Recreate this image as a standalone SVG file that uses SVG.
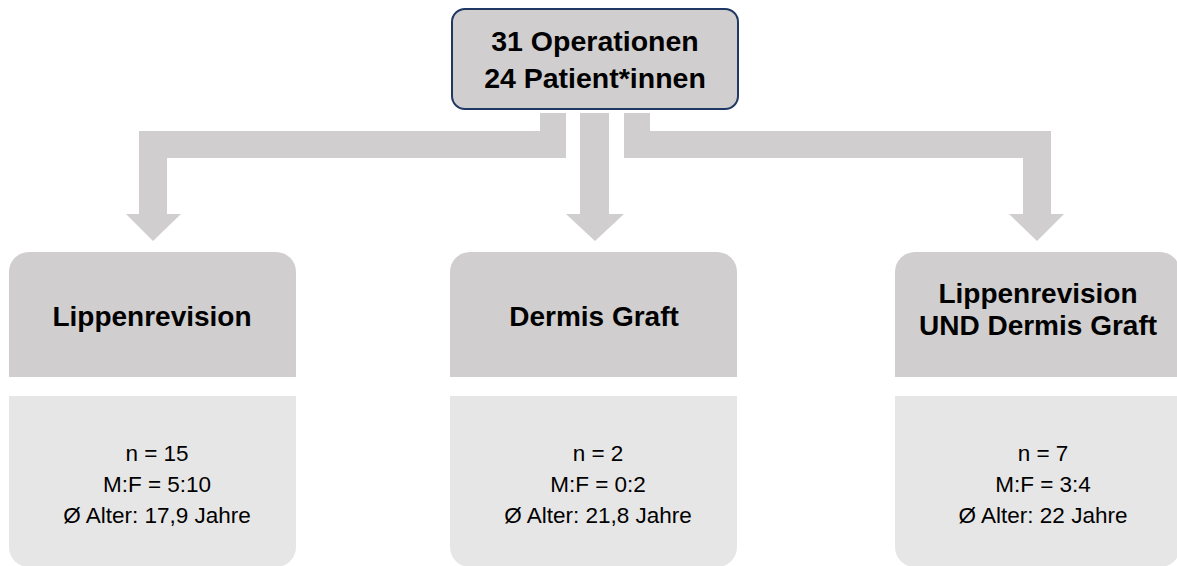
<svg xmlns="http://www.w3.org/2000/svg" width="1177" height="566" viewBox="0 0 1177 566">
<style>
.conn{fill:#d0cece;stroke:none}
.hdr{fill:#d0cece}
.body{fill:#e7e6e6}
.b{font-family:"Liberation Sans",Arial,sans-serif;font-weight:bold;font-size:28px;fill:#000;text-anchor:middle}
.t{font-size:28.5px}
.r{font-family:"Liberation Sans",Arial,sans-serif;font-size:22.5px;fill:#000;text-anchor:middle}
</style>
<rect width="1177" height="566" fill="#fff"/>
<g id="connectors">
<polygon class="conn" points="540,113 566,113 566,158 167,158 167,214 181,214 153,241 126,214 139,214 139,131 540,131"/>
<polygon class="conn" points="580,113 609,113 609,214 624,214 595,241 566,214 580,214"/>
<polygon class="conn" points="624,113 650,113 650,131 1051,131 1051,214 1064,214 1037,241 1009,214 1023,214 1023,158 624,158"/>
</g>
<g id="root">
<rect x="452" y="9" width="286" height="100" rx="13" ry="13" fill="#d0cece" stroke="#1f3864" stroke-width="2"/>
<text class="b t" x="595" y="51">31 Operationen</text>
<text class="b t" x="595" y="88">24 Patient*innen</text>
</g>
<g id="lippenrevision">
<path class="hdr" d="M9,377 V272 A20,20 0 0 1 29,252 H276 A20,20 0 0 1 296,272 V377 Z"/>
<path class="body" d="M9,396 H296 V547 A20,20 0 0 1 276,567 H29 A20,20 0 0 1 9,547 Z"/>
<text class="b" x="152" y="326">Lippenrevision</text>
<text class="r" x="157" y="461">n = 15</text>
<text class="r" x="157" y="492">M:F = 5:10</text>
<text class="r" x="157" y="523">Ø Alter: 17,9 Jahre</text>
</g>
<g id="dermis">
<path class="hdr" d="M450,377 V272 A20,20 0 0 1 470,252 H717 A20,20 0 0 1 737,272 V377 Z"/>
<path class="body" d="M450,396 H737 V547 A20,20 0 0 1 717,567 H470 A20,20 0 0 1 450,547 Z"/>
<text class="b" x="594" y="326">Dermis Graft</text>
<text class="r" x="598" y="461">n = 2</text>
<text class="r" x="598" y="492">M:F = 0:2</text>
<text class="r" x="598" y="523">Ø Alter: 21,8 Jahre</text>
</g>
<g id="beides">
<path class="hdr" d="M895,377 V272 A20,20 0 0 1 915,252 H1160 A20,20 0 0 1 1180,272 V377 Z"/>
<path class="body" d="M895,396 H1180 V547 A20,20 0 0 1 1160,567 H915 A20,20 0 0 1 895,547 Z"/>
<text class="b" x="1038" y="303">Lippenrevision</text>
<text class="b" x="1038" y="335">UND Dermis Graft</text>
<text class="r" x="1043" y="461">n = 7</text>
<text class="r" x="1043" y="492">M:F = 3:4</text>
<text class="r" x="1043" y="523">Ø Alter: 22 Jahre</text>
</g>
</svg>
